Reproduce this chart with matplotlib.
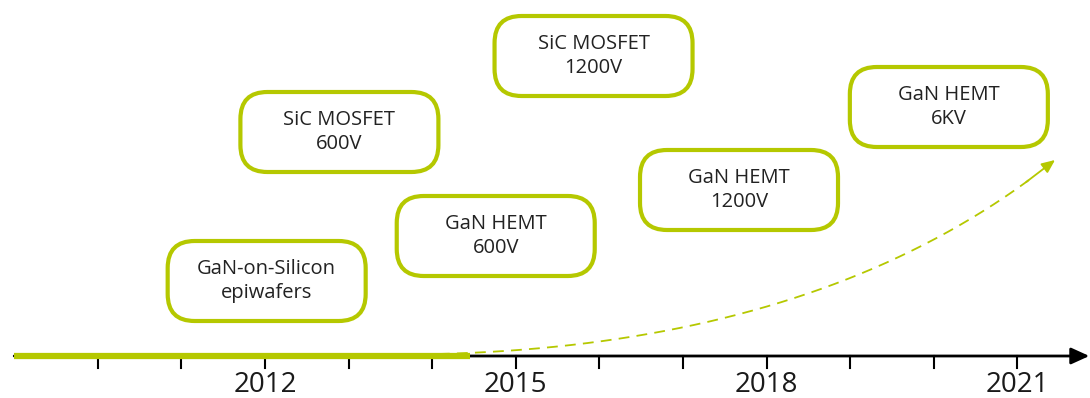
import matplotlib.pyplot as plt
import numpy as np
from matplotlib.patches import FancyBboxPatch

plt.rcParams['font.family'] = ['Open Sans', 'DejaVu Sans']

# milestones: label, year position (box centre), height (pixels from top)
labels = ["GaN-on-Silicon\nepiwafers", "SiC MOSFET\n600V", "GaN HEMT\n600V",
          "SiC MOSFET\n1200V", "GaN HEMT\n1200V", "GaN HEMT\n6KV"]
box_years = [2012.02, 2012.89, 2014.76, 2015.93, 2017.67, 2020.18]
box_rows = [281, 132, 236, 56, 190, 107]

tick_years = list(range(2010, 2022))
label_years = [2012, 2015, 2018, 2021]

# timeline span
start_year = 2009.0
progress_year = 2014.45
end_year = 2021.86
trend_start = (2013.0, 354)
trend_ctrl = (2018.4, 365)
trend_end = (2021.45, 160)

green = '#b5c800'
px_per_year = 83.6

fig = plt.figure(figsize=(10.9, 3.98), dpi=100)
ax = fig.add_axes([0, 0, 1, 1])
ax.set_xlim(2012 - 265 / px_per_year, 2012 + (1090 - 265) / px_per_year)
ax.set_ylim(398, 0)
ax.axis('off')

axis_y = 356
box_w = 198 / px_per_year
box_h = 80

for lab, yr, row in zip(labels, box_years, box_rows):
    box = FancyBboxPatch((yr - box_w / 2, row - box_h / 2), box_w, box_h,
                         boxstyle='round,pad=0,rounding_size=%f' % (27 / px_per_year),
                         mutation_aspect=px_per_year,
                         facecolor='white', edgecolor=green, linewidth=3, zorder=3)
    ax.add_patch(box)
    ax.text(yr, row, lab, ha='center', va='center', fontsize=14.5,
            color='#222222', linespacing=1.3, zorder=4)

# black axis with arrow
ax.annotate('', xy=(end_year, axis_y), xytext=(start_year, axis_y),
            annotation_clip=False,
            arrowprops=dict(arrowstyle='-|>,head_length=1.1,head_width=0.5',
                            color='black', lw=2, shrinkA=0, shrinkB=0), zorder=2)

for yr in tick_years:
    ax.plot([yr, yr], [axis_y, axis_y + 12], color='black', lw=1.5, zorder=2)
for yr in label_years:
    ax.text(yr, 385, str(yr), ha='center', va='center', fontsize=20, color='#1a1a1a')

# dashed trend curve (quadratic bezier)
t = np.linspace(0, 1, 200)[:, None]
p0, p1, p2 = np.array(trend_start), np.array(trend_ctrl), np.array(trend_end)
curve = (1 - t) ** 2 * p0 + 2 * t * (1 - t) * p1 + t ** 2 * p2
ax.plot(curve[:-8, 0], curve[:-8, 1], color=green, lw=1.3, ls=(0, (6, 4)), zorder=2)
ax.annotate('', xy=tuple(curve[-1]), xytext=tuple(curve[-12]),
            arrowprops=dict(arrowstyle='-|>,head_length=0.8,head_width=0.35',
                            color=green, lw=1.3, shrinkA=0, shrinkB=0))

# progress so far, drawn over axis and curve start
ax.plot([start_year, progress_year], [axis_y, axis_y], color=green, lw=4.5,
        solid_capstyle='butt', zorder=4)

fig.savefig('out.png', dpi=100)
